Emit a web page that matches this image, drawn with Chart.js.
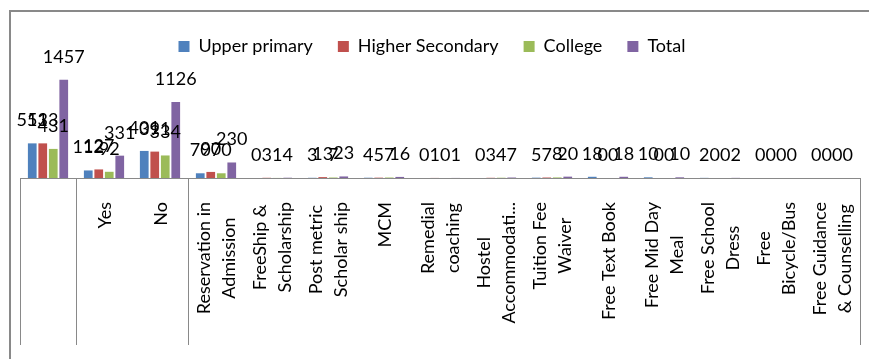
<!DOCTYPE html>
<html>
<head>
<meta charset="utf-8">
<script src="https://cdn.jsdelivr.net/npm/chart.js@4/dist/chart.umd.min.js"></script>
<style>
  html, body { margin: 0; padding: 0; background: #fff; }
  canvas { display: block; }
</style>
</head>
<body>
<canvas id="benefitsChart" width="869" height="359"></canvas>
<script>
// categories (multi-line labels as Excel wrapped them)
const categories = [
  [""],
  ["Yes"],
  ["No"],
  ["Reservation in", "Admission"],
  ["FreeShip &", "Scholarship"],
  ["Post metric", "Scholar ship"],
  ["MCM"],
  ["Remedial", "coaching"],
  ["Hostel", "Accommodati..."],
  ["Tuition Fee", "Waiver"],
  ["Free Text Book"],
  ["Free Mid Day", "Meal"],
  ["Free School", "Dress"],
  ["Free", "Bicycle/Bus"],
  ["Free Guidance", "& Counselling"]
]
// outer category groups (how many categories each one spans)
const groupSizes = [1, 2, 12]

const upperPrimary    = [513, 112, 401, 70, 0, 3, 4, 0, 0, 5, 18, 10, 2, 0, 0]
const higherSecondary = [513, 127, 391, 90, 3, 13, 5, 1, 3, 7, 0, 0, 0, 0, 0]
const college         = [431, 92, 334, 70, 1, 7, 7, 0, 4, 8, 0, 0, 0, 0, 0]
const total           = [1457, 331, 1126, 230, 4, 23, 16, 1, 7, 20, 18, 10, 2, 0, 0]

const FONT = "Lato, 'Open Sans', sans-serif"
const LINE_GRAY = "#898989"

// frame, axis line, group separators and the rotated category labels
const axisDecor = {
  id: "axisDecor",
  afterLayout(chart) {
    // legend in the reference sits a bit left of the canvas centre
    chart.legend.left -= 8
    chart.legend.right -= 8
  },
  beforeDraw(chart) {
    const ctx = chart.ctx
    ctx.save()
    ctx.strokeStyle = LINE_GRAY
    ctx.lineWidth = 2
    ctx.beginPath()
    ctx.moveTo(10, 359)
    ctx.lineTo(10, 11)
    ctx.lineTo(869, 11)
    ctx.stroke()
    ctx.restore()
  },
  afterDraw(chart) {
    const ctx = chart.ctx
    const x = chart.scales.x
    const area = chart.chartArea
    const catW = x.getPixelForValue(1) - x.getPixelForValue(0)

    ctx.save()
    ctx.strokeStyle = LINE_GRAY
    ctx.lineWidth = 1
    ctx.beginPath()
    ctx.moveTo(area.left, area.bottom + 0.5)
    ctx.lineTo(area.right, area.bottom + 0.5)
    ctx.stroke()

    // group separators
    let idx = 0
    const edges = [0]
    groupSizes.forEach(n => { idx += n; edges.push(idx) })
    ctx.beginPath()
    edges.forEach(e => {
      const px = Math.round(x.getPixelForValue(e) - catW / 2) + 0.5
      ctx.moveTo(px, area.bottom)
      ctx.lineTo(px, 345)
    })
    ctx.stroke()

    // category labels, rotated, lines centred in the block;
    // block top at y=202 unless it would run past the bottom limit
    ctx.fillStyle = "#000"
    ctx.font = "18px " + FONT
    ctx.textAlign = "center"
    ctx.textBaseline = "middle"
    const lh = 25
    categories.forEach((lines, i) => {
      const cx = x.getPixelForValue(i) + 1
      const w = Math.max(...lines.map(t => ctx.measureText(t).width))
      const top = Math.min(202, 328 - w)
      ctx.save()
      ctx.translate(cx, top + w / 2)
      ctx.rotate(-Math.PI / 2)
      lines.forEach((t, j) => {
        ctx.fillText(t, 0, (j - (lines.length - 1) / 2) * lh)
      })
      ctx.restore()
    })
    ctx.restore()
  },
  afterDatasetsDraw(chart) {
    // value labels above each bar
    const ctx = chart.ctx
    ctx.save()
    ctx.fillStyle = "#000"
    ctx.font = "18px " + FONT
    ctx.textAlign = "center"
    ctx.textBaseline = "alphabetic"
    chart.data.datasets.forEach((ds, d) => {
      const meta = chart.getDatasetMeta(d)
      meta.data.forEach((bar, i) => {
        ctx.fillText(String(ds.data[i]), bar.x, bar.y - 17)
      })
    })
    ctx.restore()
  }
}

// force the legend box height so the plot area starts where the reference does
const legendHeight = {
  id: "legendHeight",
  beforeInit(chart) {
    const fit = chart.legend.fit
    chart.legend.fit = function () {
      fit.call(this)
      this.height = 57.5
    }
  }
}

const ctx = document.getElementById("benefitsChart").getContext("2d")

new Chart(ctx, {
  type: "bar",
  data: {
    labels: categories,
    datasets: [
      { label: "Upper primary", data: upperPrimary, backgroundColor: "#4F81BD" },
      { label: "Higher Secondary", data: higherSecondary, backgroundColor: "#C0504D" },
      { label: "College", data: college, backgroundColor: "#9BBB59" },
      { label: "Total", data: total, backgroundColor: "#8064A2" }
    ]
  },
  plugins: [legendHeight, axisDecor],
  options: {
    responsive: false,
    animation: false,
    devicePixelRatio: 1,
    layout: { padding: { left: 20, right: 9, top: 12.5, bottom: 181 } },
    categoryPercentage: 0.75,
    barPercentage: 0.83,
    scales: {
      x: { display: false },
      y: { display: false, min: 0, max: 1600 }
    },
    plugins: {
      tooltip: { enabled: false },
      legend: {
        position: "top",
        labels: {
          boxWidth: 11,
          boxHeight: 11,
          padding: 25,
          color: "#000",
          font: { family: FONT, size: 18 }
        }
      }
    }
  }
})
</script>
</body>
</html>
